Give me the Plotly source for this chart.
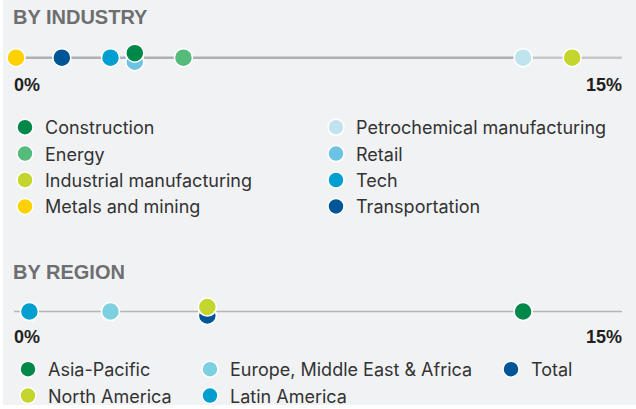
import plotly.graph_objects as go

# ---------------- data ----------------
industry_names = ["Construction", "Energy", "Industrial manufacturing", "Metals and mining",
                  "Petrochemical manufacturing", "Retail", "Tech", "Transportation"]
industry_values = [2.98, 4.18, 13.77, 0.05, 12.56, 2.98, 2.38, 1.18]
industry_colors = ["#00874a", "#55bb7a", "#c4d52e", "#ffd100",
                   "#bfe4ee", "#6bc2e3", "#009fd0", "#005596"]

region_names = ["Asia-Pacific", "North America", "Europe, Middle East & Africa", "Latin America", "Total"]
region_values = [12.56, 4.77, 2.38, 0.38, 4.77]
region_colors = ["#00874a", "#c4d52e", "#7dd0e0", "#009fd0", "#005596"]

axis_min, axis_max = 0, 15
tick_labels = ["0%", "15%"]

# ---------------- layout helpers ----------------
W, H = 636, 409
def px(p): return p / W
def py(p): return 1 - p / H

FONT = "Liberation Sans, Arial, sans-serif"
LEG_FONT = "Inter, Liberation Sans, Arial, sans-serif"
X_DOMAIN = [px(14), px(622)]

def offsets(values):
    """Separate overlapping dots: first occurrence goes up, later ones go down."""
    seen = {}
    out = []
    for v in values:
        n = seen.get(v, 0)
        out.append(4.5 if n == 0 and values.count(v) > 1 else (-4 if n > 0 else 0))
        seen[v] = n + 1
    return out

fig = go.Figure()

# background panel
fig.add_shape(type="rect", xref="paper", yref="paper", x0=px(3), x1=1, y0=py(405), y1=1,
              fillcolor="#f1f2f4", line_width=0, layer="below")

# ---------------- industry row ----------------
petro_val = industry_values[industry_names.index("Petrochemical manufacturing")]
fig.add_trace(go.Scatter(x=[axis_min, petro_val], y=[0, 0], mode="lines",
                         line=dict(color="#b0b0b0", width=2.5), showlegend=False,
                         hoverinfo="skip", xaxis="x", yaxis="y"))
fig.add_trace(go.Scatter(x=[petro_val, axis_max], y=[0, 0], mode="lines",
                         line=dict(color="#c8c8c8", width=2.5), showlegend=False,
                         hoverinfo="skip", xaxis="x", yaxis="y"))

ind_off = offsets(industry_values)
ind_legend = ["legend"] * 4 + ["legend2"] * 4
for i in reversed(range(len(industry_names))):
    fig.add_trace(go.Scatter(
        x=[industry_values[i]], y=[ind_off[i]], mode="markers", name=industry_names[i],
        marker=dict(size=18, color=industry_colors[i], line=dict(color="white", width=1.5)),
        cliponaxis=False, legend=ind_legend[i], legendrank=i, xaxis="x", yaxis="y"))

# ---------------- region row ----------------
fig.add_trace(go.Scatter(x=[axis_min, axis_max], y=[0, 0], mode="lines",
                         line=dict(color="#b5b5b5", width=1.5), showlegend=False,
                         hoverinfo="skip", xaxis="x2", yaxis="y2"))
reg_off = offsets(region_values)
reg_legend = ["legend3", "legend3", "legend4", "legend4", "legend5"]
for i in reversed(range(len(region_names))):
    fig.add_trace(go.Scatter(
        x=[region_values[i]], y=[reg_off[i]], mode="markers", name=region_names[i],
        marker=dict(size=18, color=region_colors[i], line=dict(color="white", width=1.5)),
        cliponaxis=False, legend=reg_legend[i], legendrank=i, xaxis="x2", yaxis="y2"))

hidden = dict(visible=False, showgrid=False, zeroline=False, fixedrange=True)

def leg(x, y):
    return dict(x=px(x), y=py(y), xanchor="left", yanchor="top", orientation="v",
                bgcolor="rgba(0,0,0,0)", borderwidth=0, itemsizing="trace",
                font=dict(family=LEG_FONT, size=18, color="#333333"), tracegroupgap=0)

annotations = [
    dict(text="<b>BY INDUSTRY</b>", x=px(11), y=py(17.5), xref="paper", yref="paper",
         xanchor="left", yanchor="middle", showarrow=False,
         font=dict(family=FONT, size=20, color="#6d6e70")),
    dict(text="<b>BY REGION</b>", x=px(11), y=py(272), xref="paper", yref="paper",
         xanchor="left", yanchor="middle", showarrow=False,
         font=dict(family=FONT, size=20, color="#6d6e70")),
]
for xa, ycenter in (("x", 85), ("x2", 336.5)):
    annotations.append(dict(text="<b>%s</b>" % tick_labels[0], x=axis_min, xref=xa, y=py(ycenter), yref="paper",
                            xanchor="left", yanchor="middle", showarrow=False, xshift=-2,
                            font=dict(family=FONT, size=18, color="#231f20")))
    annotations.append(dict(text="<b>%s</b>" % tick_labels[1], x=axis_max, xref=xa, y=py(ycenter), yref="paper",
                            xanchor="right", yanchor="middle", showarrow=False, xshift=2,
                            font=dict(family=FONT, size=18, color="#231f20")))

fig.update_layout(
    width=W, height=H, margin=dict(l=0, r=0, t=0, b=0, autoexpand=False),
    paper_bgcolor="white", plot_bgcolor="rgba(0,0,0,0)",
    xaxis=dict(domain=X_DOMAIN, range=[axis_min, axis_max], **hidden),
    yaxis=dict(domain=[py(57.7 + 10), py(57.7 - 10)], range=[-10, 10], **hidden),
    xaxis2=dict(domain=X_DOMAIN, range=[axis_min, axis_max], anchor="y2", **hidden),
    yaxis2=dict(domain=[py(311.5 + 10), py(311.5 - 10)], range=[-10, 10], anchor="x2", **hidden),
    legend=leg(5, 109), legend2=leg(316, 109),
    legend3=leg(8, 351), legend4=leg(190, 351), legend5=leg(491, 351),
    annotations=annotations,
    hovermode=False,
)

fig.write_html("out.html", config={"responsive": False, "displayModeBar": False},
               post_script="document.body.style.margin='0';document.body.style.overflow='hidden';")
